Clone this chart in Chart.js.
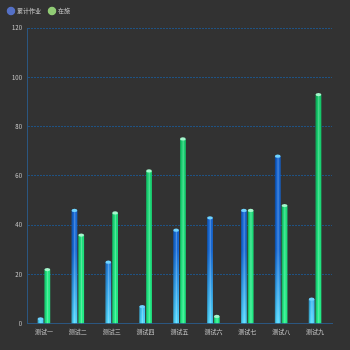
<!DOCTYPE html>
<html>
<head>
<meta charset="utf-8">
<script src="https://cdn.jsdelivr.net/npm/chart.js@4"></script>
<style>
    html, body { margin: 0; padding: 0; background: #323232; }
    #wrap { width: 350px; height: 350px; }
</style>
</head>
<body>
<div id="wrap"><canvas id="chart"></canvas></div>
<script>
var categories = ['测试一', '测试二', '测试三', '测试四', '测试五', '测试六', '测试七', '测试八', '测试九'];
var totalWork = [2, 46, 25, 7, 38, 43, 46, 68, 10];
var inProgress = [22, 36, 45, 62, 75, 3, 46, 48, 93];
var yTicks = [0, 20, 40, 60, 80, 100, 120];

var fontFamily = '"Noto Sans CJK SC", "Noto Sans", sans-serif';

// vertical fill for each series, recreated when the chart area is known
function makeGradient(ctx, area, stops) {
    var g = ctx.createLinearGradient(0, area.top, 0, area.bottom);
    stops.forEach(function (s) { g.addColorStop(s[0], s[1]); });
    return g;
}

function blueFill(context) {
    var area = context.chart.chartArea;
    if (!area) return '#1565c0';
    return makeGradient(context.chart.ctx, area, [[0, '#0a50bd'], [0.75, '#1769d4'], [1, '#4fd6fb']]);
}

function greenFill(context) {
    var area = context.chart.chartArea;
    if (!area) return '#1ed67a';
    return makeGradient(context.chart.ctx, area, [[0, '#0fb85e'], [1, '#22ec86']]);
}

// a bit of extra room below the legend
var legendGap = {
    id: 'legendGap',
    beforeInit: function (chart) {
        var fit = chart.legend.fit;
        chart.legend.fit = function () {
            fit.bind(chart.legend)();
            this.height += 4;
        };
    }
};

// draws the shine stripe and the round cap on top of every bar
var cylinderPlugin = {
    id: 'cylinder',
    afterDatasetsDraw: function (chart) {
        var ctx = chart.ctx;
        var caps = ['#6fd3ff', '#a4f7cc'];
        chart.data.datasets.forEach(function (ds, i) {
            var meta = chart.getDatasetMeta(i);
            meta.data.forEach(function (bar) {
                var w = bar.width;
                var left = bar.x - w / 2;
                ctx.save();
                ctx.fillStyle = 'rgba(0,0,0,0.18)';
                ctx.fillRect(left, bar.y, w * 0.2, bar.base - bar.y);
                ctx.fillStyle = 'rgba(255,255,255,0.25)';
                ctx.fillRect(left + w * 0.45, bar.y, w * 0.2, bar.base - bar.y);
                ctx.fillStyle = caps[i];
                ctx.beginPath();
                ctx.ellipse(bar.x, bar.y, w / 2, 1.6, 0, 0, Math.PI * 2);
                ctx.fill();
                ctx.restore();
            });
        });
    }
};

var ctx = document.getElementById('chart');
new Chart(ctx, {
    type: 'bar',
    data: {
        labels: categories,
        datasets: [{
            label: '累计作业',
            data: totalWork,
            backgroundColor: blueFill,
            borderWidth: 0,
            categoryPercentage: 0.4,
            barPercentage: 0.85
        }, {
            label: '在施',
            data: inProgress,
            backgroundColor: greenFill,
            borderWidth: 0,
            categoryPercentage: 0.4,
            barPercentage: 0.85
        }]
    },
    options: {
        responsive: true,
        maintainAspectRatio: false,
        animation: false,
        layout: { padding: { left: 0, right: 18, top: 0, bottom: 11 } },
        plugins: {
            legend: {
                position: 'top',
                align: 'start',
                labels: {
                    color: '#d0d0d0',
                    font: { size: 6, family: fontFamily },
                    usePointStyle: true,
                    pointStyle: 'circle',
                    boxWidth: 7,
                    boxHeight: 7,
                    padding: 8,
                    generateLabels: function (chart) {
                        var fills = ['#5470c6', '#91cc75'];
                        return chart.data.datasets.map(function (ds, i) {
                            return {
                                text: ds.label,
                                fillStyle: fills[i],
                                strokeStyle: fills[i],
                                lineWidth: 0,
                                pointStyle: 'circle',
                                fontColor: '#d0d0d0',
                                datasetIndex: i
                            };
                        });
                    }
                }
            },
            tooltip: { enabled: false }
        },
        scales: {
            x: {
                grid: { display: false, drawTicks: false },
                border: { color: '#2b5680', width: 1 },
                ticks: {
                    color: '#cccccc',
                    font: { size: 6, family: fontFamily },
                    padding: 4,
                    maxRotation: 0,
                    autoSkip: false
                }
            },
            y: {
                min: 0,
                max: 120,
                afterBuildTicks: function (axis) {
                    axis.ticks = yTicks.map(function (v) { return { value: v }; });
                },
                afterFit: function (axis) {
                    axis.width = 27;
                },
                grid: { color: '#1f5283', lineWidth: 1, drawTicks: false },
                border: { color: '#2b5680', width: 1, dash: [2, 1] },
                ticks: {
                    color: '#cccccc',
                    font: { size: 6, family: fontFamily },
                    padding: 5
                }
            }
        }
    },
    plugins: [legendGap, cylinderPlugin]
});
</script>
</body>
</html>
